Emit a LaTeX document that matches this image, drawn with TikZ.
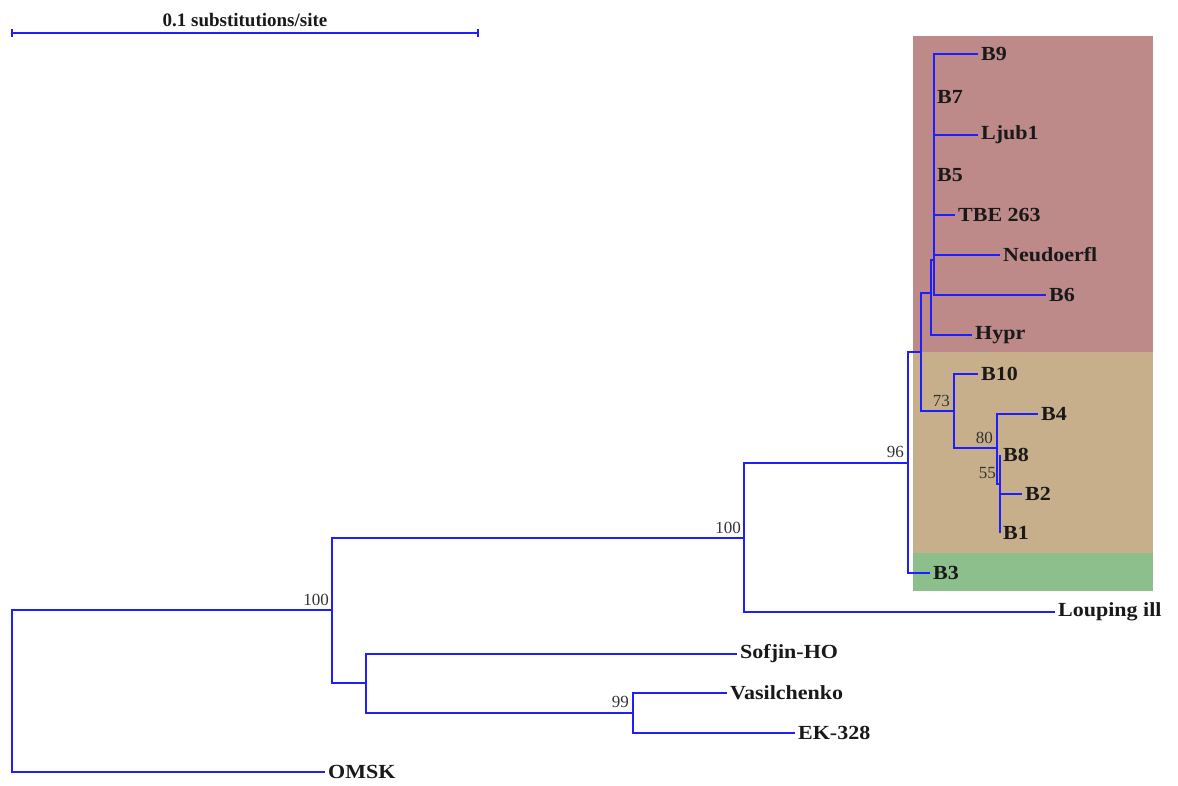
\documentclass[tikz,border=0pt]{standalone}
\usepackage{fontspec}
\setmainfont{Liberation Serif}
\newfontfamily\leaffont[FakeStretch=1.1]{Liberation Serif}
\usepackage{xcolor}
\usepackage{tikz}

\definecolor{cladeRed}{RGB}{189,138,137}
\definecolor{cladeTan}{RGB}{199,175,139}
\definecolor{cladeGreen}{RGB}{140,191,140}
\definecolor{treeBlue}{RGB}{30,30,255}

\tikzset{
  branch/.style={treeBlue, line width=1.9pt},
  leaf/.style={anchor=west, inner sep=3pt, text=black!90, font=\leaffont\fontsize{20}{24}\selectfont\bfseries},
  boot/.style={anchor=south east, inner sep=2pt, text=black!80, font=\fontsize{17}{20}\selectfont},
}

\begin{document}
\begin{tikzpicture}[x=1pt,y=-1pt]
\useasboundingbox (0,0) rectangle (1178,785);
% clade boxes
\fill[cladeRed] (913,36) rectangle (1153,352);
\fill[cladeTan] (913,352) rectangle (1153,553);
\fill[cladeGreen] (913,553) rectangle (1153,591);

% scale bar
\coordinate (sbL) at (12,33);
\coordinate (sbR) at (478,33);
\draw[branch, line width=1.5pt] (sbL) -- (sbR) node[midway, above=5pt, inner sep=0pt, text=black!90, font=\fontsize{19}{22}\selectfont\bfseries] {0.1 substitutions/site};
\draw[branch, line width=1.5pt] ([yshift=-4pt]sbL) -- ([yshift=4pt]sbL);
\draw[branch, line width=1.5pt] ([yshift=-4pt]sbR) -- ([yshift=4pt]sbR);

% internal nodes
\coordinate (root) at (12,691);
\coordinate (n1) at (332,610);
\coordinate (n2) at (744,538);
\coordinate (n3) at (366,683);
\coordinate (n4) at (908,463);
\coordinate (n5) at (921,352);
\coordinate (n6) at (931,293);
\coordinate (n8) at (934,260);
\coordinate (n7) at (954,411);
\coordinate (n9) at (997,448);
\coordinate (n10) at (1000,484);
\coordinate (n11) at (633,713);

% leaves
\node[leaf] (omsk) at (325,772) {OMSK};
\node[leaf] (loup) at (1055,612) {Louping ill};
\node[leaf] (sofj) at (737,654) {Sofjin-HO};
\node[leaf] (vasi) at (727,693) {Vasilchenko};
\node[leaf] (ek) at (795,733) {EK-328};
\node[leaf] (b3) at (930,573) {B3};
\node[leaf] (hypr) at (972,335) {Hypr};
\node[leaf] (b9) at (978,54) {B9};
\node[leaf] (b7) at (934,97) {B7};
\node[leaf] (ljub) at (978,135) {Ljub1};
\node[leaf] (b5) at (934,175) {B5};
\node[leaf] (tbe) at (955,215) {TBE 263};
\node[leaf] (neud) at (1000,255) {Neudoerfl};
\node[leaf] (b6) at (1046,295) {B6};
\node[leaf] (b10) at (978,374) {B10};
\node[leaf] (b4) at (1038,414) {B4};
\node[leaf] (b8) at (1000,455) {B8};
\node[leaf] (b2) at (1022,494) {B2};
\node[leaf] (b1) at (1000,533) {B1};

% branches
\draw[branch] (root) |- (n1);
\draw[branch] (root) |- (omsk.west);
\draw[branch] (n1) |- (n2);
\draw[branch] (n1) |- (n3);
\draw[branch] (n2) |- (n4);
\draw[branch] (n2) |- (loup.west);
\draw[branch] (n3) |- (sofj.west);
\draw[branch] (n3) |- (n11);
\draw[branch] (n11) |- (vasi.west);
\draw[branch] (n11) |- (ek.west);
\draw[branch] (n4) |- (n5);
\draw[branch] (n4) |- (b3.west);
\draw[branch] (n5) |- (n6);
\draw[branch] (n5) |- (n7);
\draw[branch] (n6) |- (n8);
\draw[branch] (n6) |- (hypr.west);
\draw[branch] (n8) |- (b9.west);
\draw[branch] (n8) |- (ljub.west);
\draw[branch] (n8) |- (tbe.west);
\draw[branch] (n8) |- (neud.west);
\draw[branch] (n8) |- (b6.west);
\draw[branch] (n7) |- (b10.west);
\draw[branch] (n7) |- (n9);
\draw[branch] (n9) |- (b4.west);
\draw[branch] (n9) |- (n10);
\draw[branch] (n10) |- (b8.west);
\draw[branch] (n10) |- (b2.west);
\draw[branch] (n10) |- (b1.west);

% bootstrap values
\node[boot] at ([shift={(-1,-2)}]n1) {100};
\node[boot] at ([shift={(-1,-2)}]n2) {100};
\node[boot] at ([shift={(-2,-3)}]n4) {96};
\node[boot] at ([shift={(-2,-2)}]n7) {73};
\node[boot] at ([shift={(-2,-2)}]n9) {80};
\node[boot] at ([shift={(-2,-3)}]n10) {55};
\node[boot] at ([shift={(-2,-3)}]n11) {99};
\end{tikzpicture}
\end{document}
